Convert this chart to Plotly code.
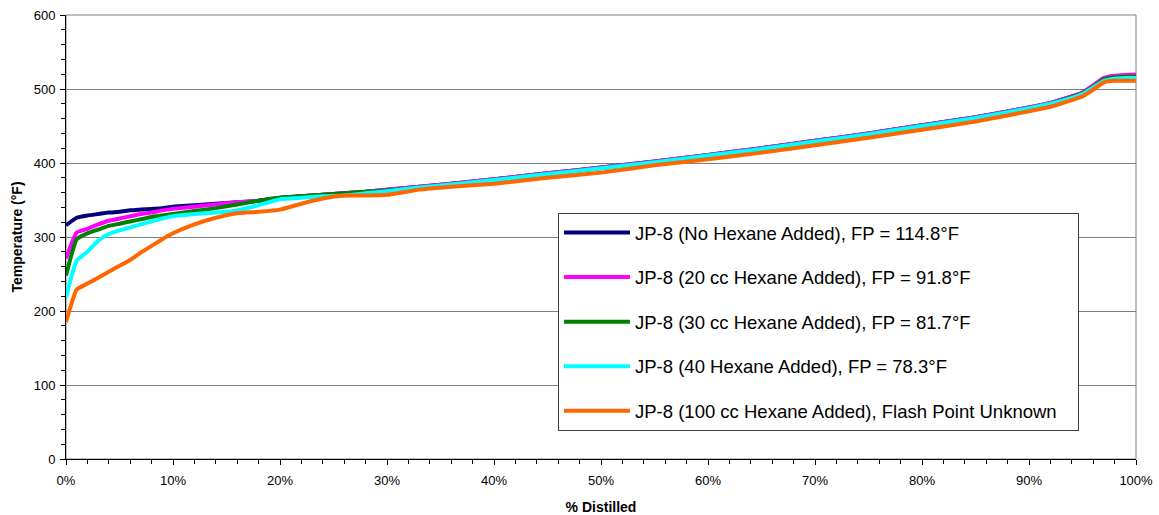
import plotly.graph_objects as go

pct = [0, 1, 2, 3, 4, 5, 6, 7, 8, 9, 10, 12, 14, 16, 18, 20, 22, 24, 26, 28, 30,
       33, 36, 40, 45, 50, 55, 60, 65, 70, 75, 80, 85, 90, 92, 94, 95, 96, 97, 98, 99, 100]

no_hexane = [316, 326, 329, 331, 333, 334, 336, 337, 338, 339, 341, 343, 345, 347, 349, 353, 355, 357, 359, 361, 364,
             368, 372, 378, 386, 394, 402, 411, 420, 430, 440, 451, 462, 475, 481, 490, 495, 504, 514, 517, 517.5, 518]
hex20 = [271, 306, 311, 317, 322, 325, 328, 331, 333, 336, 338, 341, 344, 347, 349, 352, 355, 357, 359, 361, 364,
         368, 372, 378, 386, 394, 402, 411, 420, 430, 440, 451, 462, 475, 481, 490, 495, 505, 515, 518, 519, 519.5]
hex30 = [248, 297, 305, 310, 315, 318, 321, 324, 327, 329, 331, 335, 339, 344, 349, 353, 355, 357, 359, 361, 363,
         367, 371, 377, 385, 393, 401, 410, 419, 429, 439, 450, 461, 474, 480, 489, 494, 503, 513, 516, 516.5, 517]
hex40 = [219, 268, 280, 295, 304, 309, 313, 317, 321, 325, 328, 331, 333, 336, 343, 351, 353, 355, 356, 359, 362,
         367, 371, 377, 385, 393, 401, 410, 419, 429, 439, 450, 461, 474, 480, 488, 493, 502, 511, 514, 515, 515]
hex100 = [185, 229, 237, 245, 253, 261, 269, 279, 288, 297, 305, 317, 326, 332, 334, 337, 345, 352, 356, 356, 357,
          364, 368, 372, 380, 387, 397, 405, 414, 424, 434, 445, 456, 470, 476, 485, 490, 499, 509, 511, 511, 511]

names = ["JP-8 (No Hexane Added), FP = 114.8°F",
         "JP-8 (20 cc Hexane Added), FP = 91.8°F",
         "JP-8 (30 cc Hexane Added), FP = 81.7°F",
         "JP-8 (40 Hexane Added), FP = 78.3°F",
         "JP-8 (100 cc Hexane Added), Flash Point Unknown&nbsp;&nbsp;&nbsp;"]
colors = ["#000080", "#FF00FF", "#008000", "#00FFFF", "#FF6600"]
series = [no_hexane, hex20, hex30, hex40, hex100]

fig = go.Figure()
for i, (nm, c, ys) in enumerate(zip(names, colors, series)):
    fig.add_trace(go.Scatter(x=pct, y=ys, mode="lines", name=nm, legendgroup=str(i),
                             line=dict(color=c, width=4, shape="spline", smoothing=0.4)))

font = "Liberation Sans, Arial, sans-serif"
fig.update_layout(
    width=1159, height=515,
    margin=dict(l=66, r=23, t=15, b=56),
    plot_bgcolor="white", paper_bgcolor="white",
    font=dict(family=font, size=13, color="black"),
    showlegend=True,
    legend=dict(x=(558 - 66) / 1070, y=(459 - 213) / 444, xanchor="left", yanchor="top",
                bgcolor="white", bordercolor="#404040", borderwidth=1,
                font=dict(family=font, size=18.5, color="black"),
                itemwidth=66, traceorder="grouped", tracegroupgap=17.5),
    shapes=[dict(type="rect", xref="paper", yref="paper", x0=0, y0=0, x1=1, y1=1,
                 line=dict(color="#808080", width=1), layer="below")],
)
fig.update_xaxes(range=[0, 100], dtick=10, ticksuffix="%", showgrid=False, zeroline=False,
                 automargin=False,
                 showline=True, linecolor="black", linewidth=1,
                 ticks="outside", ticklen=5, tickcolor="black", ticklabelstandoff=4,
                 minor=dict(dtick=2, ticks="outside", ticklen=4, tickcolor="black"),
                 title=dict(text="<b>% Distilled</b>", font=dict(size=14), standoff=18))
fig.update_yaxes(range=[0, 600], dtick=100, showgrid=True, gridcolor="#808080", gridwidth=1,
                 automargin=False,
                 zeroline=False, showline=True, linecolor="black", linewidth=1,
                 ticks="outside", ticklen=5, tickcolor="black", ticklabelstandoff=2,
                 minor=dict(dtick=20, ticks="outside", ticklen=4, tickcolor="black", showgrid=False),
                 title=dict(text="<b>Temperature (°F)</b>", font=dict(size=14), standoff=7))

fig.write_html("out.html")
